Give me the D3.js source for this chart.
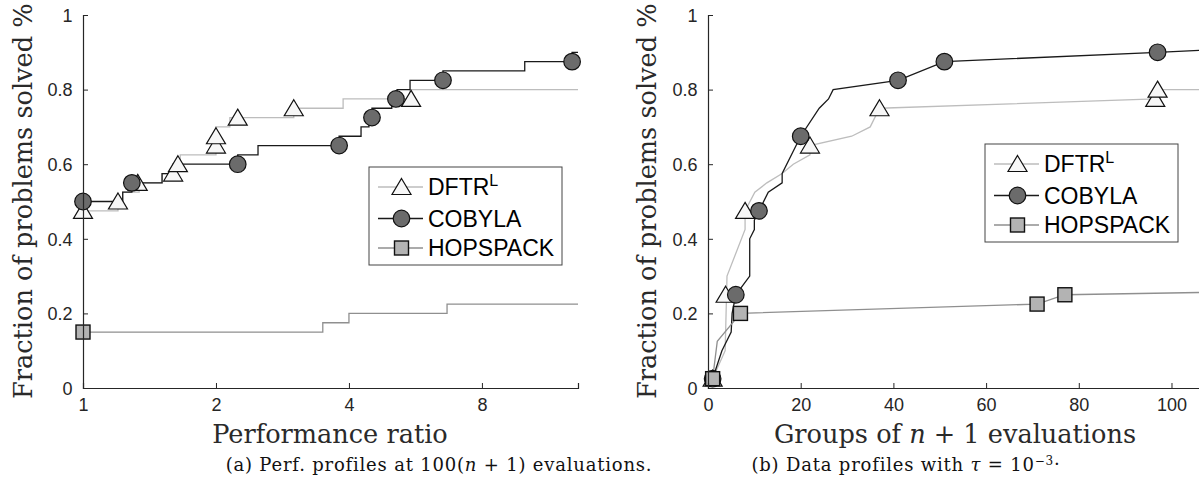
<!DOCTYPE html>
<html>
<head>
<meta charset="utf-8">
<script src="https://cdn.jsdelivr.net/npm/d3@7"></script>
<style>
  body { margin: 0; background: #fff; }
  svg { display: block; }
</style>
</head>
<body>
<div id="chart"></div>
<script>
// (a) performance profiles: [ratio, fraction], step after each ratio
const dftrPerf = [[1, 0.475], [1.2, 0.5], [1.23, 0.525], [1.34, 0.55], [1.51, 0.575], [1.62, 0.6], [1.66, 0.625],
    [2.0, 0.65], [2.0, 0.675], [2.0, 0.7], [2.15, 0.725], [3.0, 0.75], [3.88, 0.775], [5.5, 0.8], [13.2, 0.8]];
const dftrPerfMarks = [[1, 0.475], [1.2, 0.5], [1.33, 0.55], [1.6, 0.575], [1.64, 0.6], [2, 0.65], [2, 0.675],
    [2.24, 0.725], [3.0, 0.75], [5.53, 0.775]];
const cobylaPerf = [[1, 0.5], [1.23, 0.525], [1.29, 0.55], [1.51, 0.575], [1.6, 0.6], [2.24, 0.625], [2.49, 0.65],
    [3.8, 0.675], [4.26, 0.7], [4.44, 0.725], [4.51, 0.75], [5.0, 0.775], [5.14, 0.8], [5.5, 0.825], [6.53, 0.85],
    [10.0, 0.875], [12.8, 0.9], [13.2, 0.9]];
const cobylaPerfMarks = [[1, 0.5], [1.29, 0.55], [2.24, 0.6], [3.8, 0.65], [4.51, 0.725], [5.11, 0.775], [6.53, 0.825], [12.8, 0.875]];
const hopsPerf = [[1, 0.15], [3.49, 0.175], [4.0, 0.2], [6.67, 0.225], [13.2, 0.225]];
const hopsPerfMarks = [[1, 0.15]];

// (b) data profiles: [groups of n+1 evaluations, fraction]
const dftrData = [[1, 0.025], [3.7, 0.1], [4.1, 0.3], [8, 0.425], [8, 0.475], [10.1, 0.525], [12.7, 0.55], [16, 0.575],
    [18.4, 0.6], [22, 0.625], [22, 0.65], [31, 0.675], [35, 0.7], [37, 0.75], [96.5, 0.775], [97, 0.8], [106, 0.8]];
const dftrDataMarks = [[1, 0.025], [3.8, 0.25], [8, 0.475], [22, 0.65], [37, 0.75], [96.5, 0.775], [97, 0.8]];
const cobylaData = [[1, 0.025], [3, 0.1], [5, 0.15], [5.2, 0.2], [6, 0.25], [9, 0.3], [9, 0.4], [10, 0.425], [10, 0.45],
    [11, 0.475], [13, 0.525], [16, 0.55], [16, 0.575], [20, 0.675], [24, 0.75], [26, 0.775], [27, 0.8], [41, 0.825],
    [51, 0.875], [97, 0.9], [106, 0.905]];
const cobylaDataMarks = [[1, 0.025], [6, 0.25], [11, 0.475], [20, 0.675], [41, 0.825], [51, 0.875], [97, 0.9]];
const hopsData = [[1, 0.025], [2, 0.125], [7, 0.2], [71, 0.225], [77, 0.25], [106, 0.256]];
const hopsDataMarks = [[1, 0.025], [7, 0.2], [71, 0.225], [77, 0.25]];

const yTicks = [0, 0.2, 0.4, 0.6, 0.8, 1];
const perfTicks = [1, 2, 4, 8];
const dataTicks = [0, 20, 40, 60, 80, 100];

const W = 1199, H = 479;
const axisColor = '#262626';
const sansFont = '"Liberation Sans", Arial, sans-serif';
const serifFont = '"DejaVu Serif", serif';

const styles = {
    dftr: { line: '#bdbdbd', fill: '#f7f7f7', shape: 'triangle' },
    cobyla: { line: '#1a1a1a', fill: '#6b6b6b', shape: 'circle' },
    hops: { line: '#8f8f8f', fill: '#b3b3b3', shape: 'square' }
};

const svg = d3.select('#chart').append('svg')
    .attr('width', W)
    .attr('height', H)
    .attr('font-family', sansFont);

svg.append('rect').attr('width', W).attr('height', H).attr('fill', '#fff');

function drawMarker(g, shape, fill, x, y) {
    if (shape === 'circle') {
        g.append('circle').attr('cx', x).attr('cy', y).attr('r', 8.3)
            .attr('fill', fill).attr('stroke', '#111').attr('stroke-width', 1.2);
    } else if (shape === 'square') {
        g.append('rect').attr('x', x - 7).attr('y', y - 7).attr('width', 14).attr('height', 14)
            .attr('fill', fill).attr('stroke', '#111').attr('stroke-width', 1.4);
    } else {
        g.append('path').attr('d', `M${x},${y - 8.5} L${x + 9.5},${y + 7.5} L${x - 9.5},${y + 7.5} Z`)
            .attr('fill', fill).attr('stroke', '#111').attr('stroke-width', 1.2);
    }
}

function drawPanel(opt) {
    const x = opt.x, y = opt.y;
    const g = svg.append('g');

    const line = d3.line()
        .x(d => x(d[0]))
        .y(d => y(d[1]))
        .curve(opt.curve);

    opt.series.forEach(s => {
        const st = styles[s.key];
        g.append('path').datum(s.values)
            .attr('d', line)
            .attr('fill', 'none')
            .attr('stroke', st.line)
            .attr('stroke-width', 1.3);
    });
    opt.series.forEach(s => {
        const st = styles[s.key];
        s.marks.forEach(d => drawMarker(g, st.shape, st.fill, x(d[0]), y(d[1])));
    });

    // axes: ticks pointing inward, no box
    const xAxis = g.append('g').attr('transform', `translate(0,${y(0)})`)
        .call(d3.axisBottom(x).tickValues(opt.xTicks).tickSize(-5).tickPadding(17).tickFormat(d3.format('d')));
    const yAxis = g.append('g').attr('transform', `translate(${x.range()[0]},0)`)
        .call(d3.axisLeft(y).tickValues(yTicks).tickSize(-5).tickPadding(10.5).tickFormat(d => d === 0 || d === 1 ? d : d3.format('.1f')(d)));
    [xAxis, yAxis].forEach(a => {
        a.attr('font-size', 18).attr('font-family', sansFont);
        a.select('.domain').attr('stroke', axisColor).attr('stroke-width', 1.2);
        a.selectAll('.tick line').attr('stroke', axisColor).attr('stroke-width', 1);
        a.selectAll('.tick text').attr('fill', axisColor).style('font-size', '18px');
    });
    yAxis.selectAll('.tick text').attr('dy', '0.35em');
    xAxis.selectAll('.tick text').attr('dy', '0.35em');

    // y label
    g.append('text')
        .attr('transform', `translate(${opt.yLabelX},399) rotate(-90)`)
        .attr('font-family', serifFont)
        .attr('font-size', 25.6)
        .attr('fill', '#2a2a2a')
        .text('Fraction of problems solved %');

    // x label
    const xl = g.append('text')
        .attr('x', opt.xLabelX).attr('y', 443)
        .attr('text-anchor', 'middle')
        .attr('font-family', serifFont)
        .attr('font-size', 25.6)
        .attr('fill', '#2a2a2a');
    opt.xLabel.forEach(p => xl.append('tspan').attr('font-style', p.it ? 'italic' : null).text(p.t));

    // caption
    const cap = g.append('text')
        .attr('x', opt.capX).attr('y', 471)
        .attr('text-anchor', 'middle')
        .attr('font-family', serifFont)
        .attr('font-size', 18)
        .attr('letter-spacing', 0.8)
        .attr('fill', '#111');
    opt.caption.forEach(p => {
        const t = cap.append('tspan').text(p.t);
        if (p.it) t.attr('font-style', 'italic');
        if (p.sup) t.attr('font-size', 12).attr('dy', p.dy);
    });

    // legend
    const lg = g.append('g').attr('transform', `translate(${opt.legend[0]},${opt.legend[1]})`);
    lg.append('rect').attr('width', 193).attr('height', 98)
        .attr('fill', '#fff').attr('stroke', '#444').attr('stroke-width', 1);
    const rows = [{ key: 'dftr', y: 20 }, { key: 'cobyla', y: 51.5 }, { key: 'hops', y: 81 }];
    rows.forEach(r => {
        const st = styles[r.key];
        lg.append('line').attr('x1', 9).attr('x2', 54).attr('y1', r.y).attr('y2', r.y)
            .attr('stroke', st.line).attr('stroke-width', 1.3);
        drawMarker(lg, st.shape, st.fill, 32.5, r.y);
        const t = lg.append('text').attr('x', 59).attr('y', r.y).attr('dy', '0.36em')
            .attr('font-size', 23).attr('fill', '#000');
        if (r.key === 'dftr') {
            t.append('tspan').text('DFTR');
            t.append('tspan').attr('font-size', 16).attr('dy', -9).text('L');
        } else {
            t.text(r.key === 'cobyla' ? 'COBYLA' : 'HOPSPACK');
        }
    });
}

const yScale = d3.scaleLinear().domain([0, 1]).range([388, 15]);

drawPanel({
    x: d3.scaleLog().base(2).domain([1, 13.2]).range([83, 578]),
    y: yScale,
    curve: d3.curveStepAfter,
    xTicks: perfTicks,
    series: [
        { key: 'dftr', values: dftrPerf, marks: dftrPerfMarks },
        { key: 'cobyla', values: cobylaPerf, marks: cobylaPerfMarks },
        { key: 'hops', values: hopsPerf, marks: hopsPerfMarks }
    ],
    yLabelX: 32,
    xLabelX: 330,
    xLabel: [{ t: 'Performance ratio' }],
    capX: 439,
    caption: [{ t: '(a) Perf. profiles at 100(' }, { t: 'n', it: true }, { t: ' + 1) evaluations.' }],
    legend: [369, 167]
});

drawPanel({
    x: d3.scaleLinear().domain([0, 106]).range([708, 1199.3]),
    y: yScale,
    curve: d3.curveLinear,
    xTicks: dataTicks,
    series: [
        { key: 'dftr', values: dftrData, marks: dftrDataMarks },
        { key: 'cobyla', values: cobylaData, marks: cobylaDataMarks },
        { key: 'hops', values: hopsData, marks: hopsDataMarks }
    ],
    yLabelX: 656,
    xLabelX: 955,
    xLabel: [{ t: 'Groups of ' }, { t: 'n', it: true }, { t: ' + 1 evaluations' }],
    capX: 906,
    caption: [{ t: '(b) Data profiles with ' }, { t: 'τ', it: true }, { t: ' = 10' }, { t: '−3', sup: true, dy: -6 }, { t: '.', sup: false }],
    legend: [985, 144]
});
</script>
</body>
</html>
